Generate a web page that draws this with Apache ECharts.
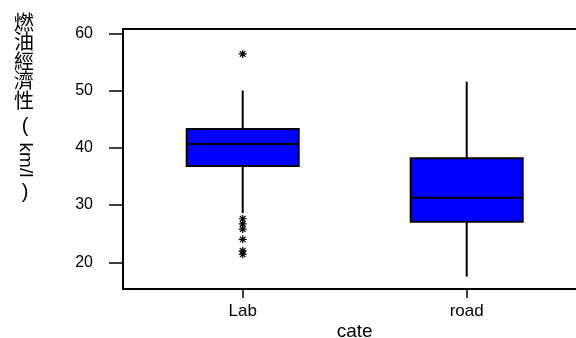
<!DOCTYPE html>
<html><head><meta charset="utf-8">
<script src="https://cdn.jsdelivr.net/npm/echarts@6/dist/echarts.min.js"></script>
<style>html,body{margin:0;padding:0;background:#fff}#c{width:576px;height:338px}</style>
</head><body><div id="c"></div>
<script>
const categories = ['Lab', 'road'];
const whiskerLow = [28.6, 17.5];
const q1 = [36.82, 27.06];
const median = [40.66, 31.26];
const q3 = [43.28, 38.15];
const whiskerHigh = [50.0, 51.55];
const outlierCategory = ['Lab', 'Lab', 'Lab', 'Lab', 'Lab', 'Lab', 'Lab'];
const outlierValues = [56.4, 27.6, 26.7, 25.8, 24.0, 22.0, 21.4];
const yTicks = [20, 30, 40, 50, 60];
const yNameCJK = '燃油經濟性';
const yUnit = 'km/l';
const xName = 'cate';

const font = 'Liberation Sans, Arial, sans-serif';
const chart = echarts.init(document.getElementById('c'), null, {renderer: 'canvas'});

const boxData = categories.map((c, i) => [i + 1, whiskerLow[i], q1[i], median[i], q3[i], whiskerHigh[i]]);
const outData = outlierValues.map((v, i) => [categories.indexOf(outlierCategory[i]) + 1, v]);
const catPositions = categories.map((c, i) => i + 1);

const star = 'path://M5,0L5,10M0,5L10,5M1.5,1.5L8.5,8.5M8.5,1.5L1.5,8.5';

chart.setOption({
  animation: false,
  backgroundColor: '#fff',
  grid: {left: 123, top: 29, right: -10.4, bottom: 49, show: true, borderColor: '#000', borderWidth: 2, backgroundColor: 'transparent', containLabel: false, outerBoundsMode: 'none'},
  xAxis: {
    type: 'value', min: 0.4656, max: 2.5344,
    splitLine: {show: false},
    axisLine: {show: true, lineStyle: {color: '#000', width: 2}},
    axisTick: {show: true, customValues: catPositions, length: 9, lineStyle: {color: '#000', width: 1.5}},
    axisLabel: {customValues: catPositions, formatter: v => categories[Math.round(v) - 1], margin: 14, fontSize: 17, color: '#000', fontFamily: font},
    name: xName, nameLocation: 'middle', nameGap: 33, nameMoveOverlap: false,
    nameTextStyle: {fontSize: 19, color: '#000', fontFamily: font}
  },
  yAxis: {
    type: 'value', min: 15.33, max: 60.75,
    splitLine: {show: false},
    axisLine: {show: true, lineStyle: {color: '#000', width: 2}},
    axisTick: {show: true, customValues: yTicks, length: 14, lineStyle: {color: '#000', width: 1.5}},
    axisLabel: {customValues: yTicks, margin: 30, fontSize: 16, color: '#000', fontFamily: font}
  },
  graphic: [
    {type: 'text', left: 14, top: 12, style: {text: yNameCJK.split('').join('\n'), font: '20px "Noto Sans CJK TC"', lineHeight: 19.5, fill: '#000', align: 'center'}},
    {type: 'text', x: 25, y: 126, style: {text: '(', font: '20px "Liberation Sans"', fill: '#000', align: 'center', verticalAlign: 'middle'}},
    {type: 'text', x: 25, y: 160, rotation: -Math.PI / 2, style: {text: yUnit, font: '19px "Liberation Sans"', fill: '#000', align: 'center', verticalAlign: 'middle'}},
    {type: 'text', x: 25, y: 192, style: {text: ')', font: '20px "Liberation Sans"', fill: '#000', align: 'center', verticalAlign: 'middle'}}
  ],
  series: [
    {
      type: 'custom',
      data: boxData,
      encode: {x: 0, y: [1, 2, 3, 4, 5]},
      renderItem: function (params, api) {
        const x = api.value(0);
        const lo = api.coord([x, api.value(1)]);
        const b1 = api.coord([x, api.value(2)]);
        const md = api.coord([x, api.value(3)]);
        const b3 = api.coord([x, api.value(4)]);
        const hi = api.coord([x, api.value(5)]);
        const w = api.size([0.5, 0])[0];
        const h = w / 2;
        const ls = {stroke: '#000', lineWidth: 2};
        return {type: 'group', children: [
          {type: 'line', shape: {x1: hi[0], y1: hi[1], x2: b3[0], y2: b3[1]}, style: ls},
          {type: 'line', shape: {x1: lo[0], y1: lo[1], x2: b1[0], y2: b1[1]}, style: ls},
          {type: 'rect', shape: {x: b3[0] - h, y: b3[1], width: w, height: b1[1] - b3[1]}, style: {fill: '#0000ff', stroke: '#000', lineWidth: 2}},
          {type: 'line', shape: {x1: md[0] - h, y1: md[1], x2: md[0] + h, y2: md[1]}, style: ls}
        ]};
      }
    },
    {
      type: 'scatter',
      data: outData,
      symbol: star,
      symbolSize: 8,
      itemStyle: {color: 'transparent', borderColor: '#000', borderWidth: 1.2, opacity: 1}
    }
  ]
});
</script>
</body></html>
